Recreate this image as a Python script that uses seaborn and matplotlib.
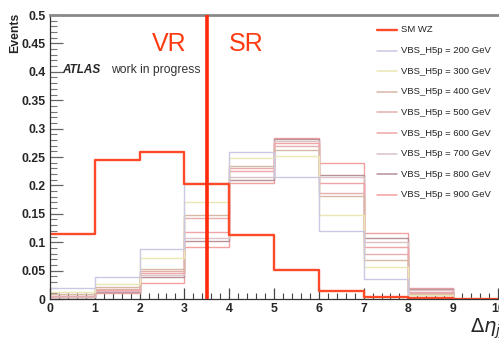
import numpy as np
import pandas as pd
import matplotlib
matplotlib.use("Agg")
import matplotlib.pyplot as plt
import seaborn as sns
from matplotlib.lines import Line2D
from matplotlib.ticker import MultipleLocator, FixedLocator, FixedFormatter

# ---------------- data ----------------
bin_edges = [0, 1, 2, 3, 4, 5, 6, 7, 8, 9, 10]
bin_centers = [0.5, 1.5, 2.5, 3.5, 4.5, 5.5, 6.5, 7.5, 8.5, 9.5]

sm_wz = [0.114, 0.244, 0.259, 0.203, 0.112, 0.051, 0.014, 0.004, 0.001, 0.0]

h5p_200 = [0.019, 0.039, 0.088, 0.204, 0.259, 0.215, 0.120, 0.036, 0.004, 0.0]
h5p_300 = [0.012, 0.026, 0.073, 0.171, 0.248, 0.252, 0.148, 0.057, 0.007, 0.0]
h5p_400 = [0.008, 0.021, 0.052, 0.148, 0.235, 0.262, 0.182, 0.069, 0.009, 0.0]
h5p_500 = [0.006, 0.018, 0.049, 0.142, 0.230, 0.270, 0.186, 0.080, 0.011, 0.0]
h5p_600 = [0.005, 0.016, 0.046, 0.118, 0.225, 0.274, 0.205, 0.092, 0.013, 0.0]
h5p_700 = [0.004, 0.014, 0.042, 0.107, 0.215, 0.278, 0.215, 0.101, 0.015, 0.0]
h5p_800 = [0.004, 0.012, 0.038, 0.102, 0.210, 0.281, 0.218, 0.107, 0.017, 0.0]
h5p_900 = [0.003, 0.011, 0.029, 0.092, 0.204, 0.284, 0.239, 0.117, 0.019, 0.0]

signal_names = ["VBS_H5p = 200 GeV", "VBS_H5p = 300 GeV", "VBS_H5p = 400 GeV",
                "VBS_H5p = 500 GeV", "VBS_H5p = 600 GeV", "VBS_H5p = 700 GeV",
                "VBS_H5p = 800 GeV", "VBS_H5p = 900 GeV"]
signal_values = [h5p_200, h5p_300, h5p_400, h5p_500, h5p_600, h5p_700, h5p_800, h5p_900]
signal_colors = ["#c9c9e4", "#ebe7b4", "#d6b8a6", "#e6aeab", "#f0a4a8",
                 "#d9c3c9", "#b98f98", "#f2a19f"]
sm_name = "SM WZ"
sm_color = "#ff4a2a"

y_ticks = [0, 0.05, 0.1, 0.15, 0.2, 0.25, 0.3, 0.35, 0.4, 0.45, 0.5]
y_tick_labels = ["0", "0.05", "0.1", "0.15", "0.2", "0.25", "0.3", "0.35", "0.4", "0.45", "0.5"]
x_ticks = [0, 1, 2, 3, 4, 5, 6, 7, 8, 9, 10]
x_tick_labels = ["0", "1", "2", "3", "4", "5", "6", "7", "8", "9", "10"]

# ---------------- figure ----------------
sns.set_theme(style="white")
plt.rcParams["font.family"] = ["Liberation Sans", "DejaVu Sans"]

W, H = 499, 339
fig = plt.figure(figsize=(W / 100, H / 100), dpi=100)
ax = fig.add_axes([50 / W, 1 - 299 / H, 448 / W, 284 / H])

rows = []
for name, vals in zip(signal_names, signal_values):
    for c, v in zip(bin_centers, vals):
        rows.append({"x": c, "w": v, "series": name})
df_sig = pd.DataFrame(rows)
df_sm = pd.DataFrame({"x": bin_centers, "w": sm_wz, "series": sm_name})

sns.histplot(data=df_sig, x="x", weights="w", hue="series", bins=bin_edges,
             element="step", fill=False, palette=dict(zip(signal_names, signal_colors)),
             hue_order=signal_names, linewidth=1.0, legend=False, ax=ax)
sns.histplot(data=df_sm, x="x", weights="w", bins=bin_edges, element="step",
             fill=False, color=sm_color, linewidth=1.7, legend=False, ax=ax)

ax.set_xlim(0, 10)
ax.set_ylim(0, 0.5)
ax.set_xlabel("")
ax.set_ylabel("")

# cut line
ax.axvline(3.5, color="#ff2a0a", linewidth=2.6, zorder=5)

# spines
ax.spines["right"].set_visible(False)
ax.spines["top"].set_color("#8a8a8a")
ax.spines["top"].set_linewidth(2.0)
ax.spines["left"].set_color("#333333")
ax.spines["left"].set_linewidth(0.9)
ax.spines["bottom"].set_color("#333333")
ax.spines["bottom"].set_linewidth(0.9)

ax.yaxis.set_major_locator(FixedLocator(y_ticks))
ax.yaxis.set_major_formatter(FixedFormatter(y_tick_labels))
ax.yaxis.set_minor_locator(MultipleLocator(0.01))
ax.xaxis.set_major_locator(FixedLocator(x_ticks))
ax.xaxis.set_major_formatter(FixedFormatter(x_tick_labels))
ax.xaxis.set_minor_locator(MultipleLocator(0.2))
ax.tick_params(axis="y", which="major", direction="in", length=9.5, width=0.9,
               color="#666666", left=True, labelsize=8.8, pad=3)
ax.tick_params(axis="y", which="minor", direction="in", length=5, width=0.8,
               color="#777777", left=True)
ax.tick_params(axis="x", which="major", direction="in", length=8, width=0.9,
               color="#444444", bottom=True, labelsize=8.8, pad=3)
ax.tick_params(axis="x", which="minor", direction="in", length=4, width=0.8,
               color="#444444", bottom=True)
for lab in ax.get_xticklabels() + ax.get_yticklabels():
    lab.set_fontweight("bold")

# texts
fig.text(15 / W, 1 - 33 / H, "Events", rotation=90, fontsize=8.8, fontweight="bold",
         ha="center", va="center")
ax.text(0.28, 0.403, "ATLAS", fontsize=8.5, fontweight="bold", fontstyle="italic",
        ha="left", va="center")
ax.text(1.36, 0.403, "work in progress", fontsize=8.7, color="#333333",
        ha="left", va="center")
ax.text(2.67, 0.449, "VR", fontsize=18, color="#ff3a10", ha="center", va="center")
ax.text(4.39, 0.449, "SR", fontsize=18, color="#ff3a10", ha="center", va="center")
fig.text(470 / W, 1 - 329 / H, r"$\Delta\eta_{jj}$", fontsize=14, ha="left", va="center")

# legend (manual)
leg_names = [sm_name] + signal_names
leg_colors = [sm_color] + signal_colors
for i, (nm, col) in enumerate(zip(leg_names, leg_colors)):
    ypx = 30 + i * 20.6
    yf = 1 - ypx / H
    fig.add_artist(Line2D([377 / W, 397 / W], [yf, yf], color=col,
                          linewidth=1.7 if i == 0 else 1.1, transform=fig.transFigure))
    fig.text(401 / W, yf, nm, fontsize=6.8, color="#222222", ha="left", va="center")

fig.savefig("out.png", dpi=100)
